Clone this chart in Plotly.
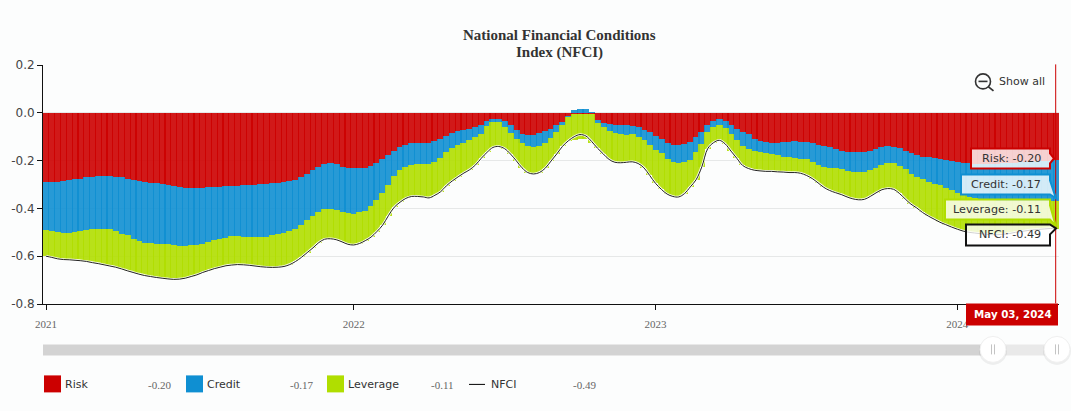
import pandas as pd
import plotly.graph_objects as go

W, H = 1071, 411
L, R, T, B = 43, 1059, 64.6, 303.6

week_dates = pd.date_range("2021-01-01", periods=175, freq="7D")

risk = [
 -.290,-.290,-.290,-.287,-.283,-.279,-.275,-.269,-.267,-.266,
 -.264,-.264,-.267,-.270,-.276,-.280,-.285,-.290,-.292,-.295,
 -.298,-.302,-.306,-.310,-.315,-.316,-.315,-.314,-.312,-.310,
 -.309,-.308,-.306,-.305,-.303,-.300,-.300,-.298,-.296,-.294,
 -.293,-.290,-.286,-.280,-.270,-.255,-.240,-.225,-.215,-.212,
 -.215,-.225,-.232,-.233,-.232,-.230,-.222,-.210,-.195,-.175,
 -.158,-.144,-.133,-.126,-.125,-.126,-.127,-.119,-.108,-.095,
 -.084,-.076,-.071,-.066,-.060,-.050,-.035,-.026,-.024,-.034,
 -.050,-.070,-.088,-.091,-.092,-.086,-.078,-.067,-.052,-.040,
 -.015,-.005,-.004,-.004,-.006,-.030,-.041,-.046,-.049,-.050,
 -.050,-.054,-.058,-.072,-.082,-.098,-.110,-.125,-.133,-.135,
 -.130,-.122,-.102,-.082,-.050,-.033,-.027,-.033,-.050,-.068,
 -.082,-.090,-.110,-.120,-.124,-.126,-.125,-.122,-.121,-.120,
 -.122,-.124,-.128,-.133,-.137,-.145,-.151,-.158,-.163,-.166,
 -.166,-.165,-.160,-.152,-.145,-.140,-.141,-.148,-.158,-.170,
 -.178,-.184,-.187,-.190,-.194,-.196,-.200,-.205,-.210,-.212,
 -.213,-.214,-.215,-.215,-.214,-.212,-.210,-.208,-.207,-.205,
 -.204,-.203,-.202,-.200,-.199,
]
risk_plus_credit = [
 -.492,-.496,-.500,-.503,-.502,-.500,-.496,-.491,-.488,-.488,
 -.488,-.488,-.495,-.505,-.513,-.526,-.535,-.543,-.545,-.548,
 -.550,-.551,-.553,-.556,-.556,-.555,-.552,-.547,-.541,-.533,
 -.528,-.522,-.517,-.517,-.518,-.518,-.520,-.520,-.518,-.513,
 -.507,-.503,-.496,-.488,-.470,-.450,-.430,-.413,-.401,-.402,
 -.406,-.414,-.420,-.422,-.415,-.412,-.390,-.365,-.335,-.300,
 -.265,-.240,-.225,-.218,-.216,-.216,-.216,-.205,-.188,-.165,
 -.148,-.136,-.125,-.112,-.100,-.088,-.055,-.040,-.039,-.060,
 -.085,-.108,-.127,-.137,-.141,-.140,-.128,-.105,-.080,-.050,
 -.018,.013,.017,.014,.005,-.043,-.060,-.075,-.086,-.090,
 -.091,-.089,-.100,-.115,-.133,-.155,-.170,-.195,-.207,-.210,
 -.205,-.196,-.165,-.132,-.080,-.060,-.052,-.065,-.090,-.115,
 -.140,-.150,-.160,-.166,-.170,-.174,-.178,-.183,-.187,-.190,
 -.192,-.195,-.205,-.220,-.226,-.230,-.233,-.237,-.244,-.248,
 -.249,-.248,-.240,-.232,-.220,-.210,-.212,-.222,-.235,-.255,
 -.270,-.279,-.288,-.296,-.303,-.313,-.325,-.335,-.345,-.352,
 -.358,-.362,-.365,-.366,-.367,-.367,-.367,-.367,-.368,-.368,
 -.368,-.368,-.368,-.368,-.369,
]
nfci = [
 -.600,-.605,-.611,-.614,-.615,-.617,-.619,-.622,-.627,-.631,
 -.636,-.641,-.646,-.653,-.661,-.668,-.675,-.681,-.685,-.689,
 -.692,-.695,-.697,-.696,-.692,-.685,-.678,-.668,-.660,-.652,
 -.646,-.640,-.637,-.635,-.636,-.638,-.641,-.644,-.646,-.647,
 -.646,-.643,-.635,-.622,-.605,-.585,-.565,-.543,-.529,-.527,
 -.531,-.540,-.550,-.553,-.547,-.535,-.520,-.497,-.470,-.430,
 -.395,-.374,-.358,-.350,-.350,-.352,-.356,-.345,-.330,-.305,
 -.285,-.268,-.252,-.238,-.218,-.190,-.165,-.145,-.141,-.150,
 -.172,-.200,-.230,-.250,-.256,-.250,-.232,-.202,-.172,-.140,
 -.117,-.100,-.091,-.097,-.120,-.148,-.172,-.195,-.207,-.209,
 -.207,-.205,-.212,-.230,-.262,-.295,-.320,-.340,-.350,-.352,
 -.338,-.310,-.280,-.225,-.150,-.125,-.115,-.130,-.160,-.190,
 -.220,-.233,-.240,-.243,-.245,-.245,-.247,-.248,-.250,-.250,
 -.253,-.262,-.275,-.293,-.312,-.325,-.334,-.342,-.352,-.360,
 -.364,-.362,-.350,-.335,-.322,-.317,-.320,-.337,-.360,-.382,
 -.398,-.417,-.432,-.445,-.458,-.468,-.478,-.487,-.495,-.500,
 -.503,-.506,-.508,-.510,-.510,-.508,-.505,-.500,-.497,-.493,
 -.490,-.488,-.486,-.484,-.485,
]
year_ticks = ["2021-01-01", "2022-01-07", "2023-01-06", "2024-01-05"]
year_labels = ["2021", "2022", "2023", "2024"]
y_ticks = [0.2, 0.0, -0.2, -0.4, -0.6, -0.8]
y_labels = ["0.2", "0.0", "-0.2", "-0.4", "-0.6", "-0.8"]
series_names = ["Risk", "Credit", "Leverage", "NFCI"]
latest_values = ["-0.20", "-0.17", "-0.11", "-0.49"]
latest_date = "May 03, 2024"
title_lines = ["National Financial Conditions", "Index (NFCI)"]

assert len(week_dates) == len(risk) == len(risk_plus_credit) == len(nfci)

credit = [t if t > 0 else t - r for t, r in zip(risk_plus_credit, risk)]
leverage = [n - r - c for n, r, c in zip(nfci, risk, credit)]

RED, BLUE, GREEN = "#cc0000", "#0f8fd2", "#b0de00"
INK = "#333333"
BG = "#fcfdfd"
SERIF = "Liberation Serif"
SANS = "DejaVu Sans"

week_ms = 7 * 86400000
bar_w = 1.2 * week_ms
x0 = week_dates[0] - pd.Timedelta(days=0.517 * 7)
x1 = week_dates[-1] + pd.Timedelta(days=0.517 * 7)

fig = go.Figure()
for name, vals, col in [("Risk", risk, RED), ("Credit", credit, BLUE), ("Leverage", leverage, GREEN)]:
    fig.add_bar(x=week_dates, y=vals, name=name, marker=dict(color=col, opacity=0.9, line_width=0), width=bar_w)
fig.add_scatter(x=week_dates, y=nfci, mode="lines", line=dict(color="rgba(255,255,255,0.9)", width=2.6, shape="spline"),
                hoverinfo="skip", showlegend=False)
fig.add_scatter(x=week_dates, y=nfci, mode="lines", name="NFCI", line=dict(color="#222222", width=1, shape="spline"))

MT, MB = T, H - B


def px(x):
    return (x - L) / (R - L)


def py(y):
    return (H - MB - y) / (H - MT - MB)


shapes = []
notes = []


def rect(x0_, y0_, x1_, y1_, fill, line=None, lw=0):
    shapes.append(dict(type="rect", xref="paper", yref="paper", x0=px(x0_), x1=px(x1_), y0=py(y1_), y1=py(y0_),
                       fillcolor=fill, line=dict(color=line or fill, width=lw), layer="above"))


def seg(x0_, y0_, x1_, y1_, col, lw=1):
    shapes.append(dict(type="line", xref="paper", yref="paper", x0=px(x0_), x1=px(x1_), y0=py(y0_), y1=py(y1_),
                       line=dict(color=col, width=lw), layer="above"))


def circle(cx, cy, r, fill, line, lw):
    shapes.append(dict(type="circle", xref="paper", yref="paper", x0=px(cx - r), x1=px(cx + r), y0=py(cy + r), y1=py(cy - r),
                       fillcolor=fill, line=dict(color=line, width=lw), layer="above"))


def note(x, y, text, font, size, color, anchor="left"):
    notes.append(dict(xref="paper", yref="paper", x=px(x), y=py(y), text=text, showarrow=False, xanchor=anchor, yanchor="middle",
                      font=dict(family=font, size=size, color=color), borderpad=0, borderwidth=0))


# cursor line
seg(1055.7, 64, 1055.7, 303, RED, 1)

# callouts: box with pointed tip towards the latest point
callouts = [
    ("Risk", RED, 971, 148, 168, 1054, 158),
    ("Credit", BLUE, 961, 174, 194, 1056, 198),
    ("Leverage", GREEN, 945, 199, 219, 1056, 226),
    ("NFCI", "#111111", 966, 224, 245, 1056, 228),
]
for (label, col, xl, yt, yb, tx, ty), val in zip(callouts, latest_values):
    xr = 1050
    ym = (yt + yb) / 2
    if ty < yt + 6:
        tip = f"L{xr+6},{ty} L{xr},{yt+10} "
    elif ty > yb:
        tip = f"L{xr},{yt+6} L{tx},{ty} L{xr},{yb} "
    else:
        tip = f"L{xr},{ty-5} L{tx},{ty} L{xr},{ty+5} "
    path = f"M{xl},{yt} L{xr},{yt} {tip}L{xr},{yb} L{xl},{yb} Z"
    conv = []
    for tok in path.split():
        c = tok[0]
        a, b = tok[1:].split(",") if c in "ML" else (None, None)
        conv.append(tok if a is None else f"{c}{px(float(a)):.5f},{py(float(b)):.5f}")
    shapes.append(dict(type="path", xref="paper", yref="paper", path=" ".join(conv),
                       fillcolor="rgba(255,255,255,0.8)", line=dict(color=col, width=2), layer="above"))
    note(1041, ym, f"{label}: {val}", SANS, 11.2, INK, "right")

# date flag
rect(966, 303, 1058, 325, RED)
note(1012.5, 314, latest_date, SANS, 10.3, "#ffffff", "center")
notes[-1]["font"]["weight"] = "bold"

# show all
circle(983, 81, 7.5, "rgba(0,0,0,0)", INK, 1.6)
seg(978.5, 81, 987.5, 81, INK, 1.6)
seg(988.5, 86.5, 993.5, 90.5, INK, 1.8)
note(999, 81, "Show all", SANS, 11, INK)

# range slider
rect(43, 344, 994, 355, "#d3d3d3")
rect(994, 344, 1058, 355, "#e9e9e9")
for cx in (993, 1057):
    circle(cx, 350.5, 14, "rgba(0,0,0,0.06)", "rgba(0,0,0,0)", 0)
    circle(cx, 349, 13, "#ffffff", "#f0f0f0", 1)
    seg(cx - 1.5, 344, cx - 1.5, 354, "#c4c4c4", 1)
    seg(cx + 1.5, 344, cx + 1.5, 354, "#c4c4c4", 1)

# legend row
legend_x = [(44, 65, 148), (186, 207, 290), (327, 348, 431), (469, 491, 573)]
for i, (name, val) in enumerate(zip(series_names, latest_values)):
    sx, tx, vx = legend_x[i]
    if i < 3:
        rect(sx, 375, sx + 17, 392, [RED, BLUE, GREEN][i])
    else:
        seg(sx, 384, sx + 16, 384, "#000000", 1)
    note(tx, 384, name, SANS, 11, INK)
    note(vx, 385, val, SERIF, 11, "#666666")

# title
note(559, 35, f"<b>{title_lines[0]}</b>", SERIF, 15, "#333333", "center")
note(559, 52, f"<b>{title_lines[1]}</b>", SERIF, 15, "#333333", "center")

fig.update_layout(
    width=W, height=H, autosize=False, showlegend=False, barmode="relative", bargap=0,
    paper_bgcolor=BG, plot_bgcolor=BG,
    margin=dict(l=L, r=W - R, t=MT, b=MB),
    shapes=shapes, annotations=notes, hovermode=False,
    font=dict(family=SANS, color=INK),
    xaxis=dict(type="date", range=[x0, x1], tickmode="array", tickvals=year_ticks, ticktext=year_labels,
               ticks="outside", ticklen=5, tickcolor="#111111", showgrid=False, zeroline=False, showline=True,
               linecolor="#111111", linewidth=1, ticklabelstandoff=5,
               tickfont=dict(family=SERIF, size=11, color="#666666")),
    yaxis=dict(range=[-0.8, 0.2], tickmode="array", tickvals=y_ticks, ticktext=y_labels, ticks="outside", ticklen=5,
               tickcolor="#111111", showgrid=True, gridcolor="#e6e8e8", gridwidth=1, zeroline=False, showline=True,
               linecolor="#111111", linewidth=1, tickfont=dict(family=SANS, size=12, color="#444444")),
)
fig.write_html("out.html", config=dict(displayModeBar=False, staticPlot=True),
               post_script="document.body.style.margin='0';document.body.style.overflow='hidden';document.body.style.background='%s';" % BG)
